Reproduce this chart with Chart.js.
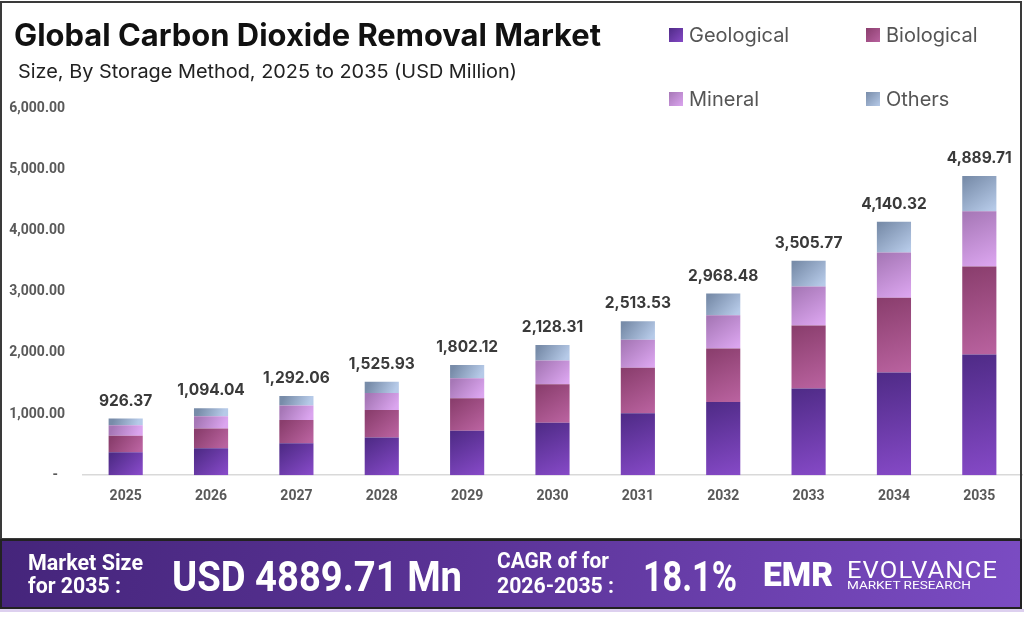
<!DOCTYPE html>
<html>
<head>
<meta charset="utf-8">
<script src="https://cdn.jsdelivr.net/npm/chart.js@4.4.1/dist/chart.umd.min.js"></script>
<style>
  html, body { margin: 0; padding: 0; background: #fff; }
  #page { position: relative; width: 1024px; height: 617px; overflow: hidden; background: #fff; }
  #chart { position: absolute; left: 0; top: 0; }
  #box { position: absolute; left: 0; top: 1px; width: 1018px; height: 535px; border: 2px solid #3a3a3a; pointer-events: none; }
  .txt { position: absolute; white-space: nowrap; line-height: 1; transform-origin: 0 0; display: inline-block; }
  #title { left: 14px; top: 16px; font: 700 31px Inter, sans-serif; color: #111; }
  #subtitle { left: 18px; top: 60px; font: 400 19px Inter, sans-serif; color: #222; }
  #legend { position: absolute; left: 669px; top: 0; }
  .leg { position: absolute; height: 20px; }
  .leg .sw { position: absolute; left: 0; top: 3px; width: 14px; height: 14px; }
  .leg .lb { position: absolute; left: 20px; top: 0; font: 400 20px Inter, sans-serif; color: #555; white-space: nowrap; line-height: 1; transform-origin: 0 0; }
  #footer { position: absolute; left: 0; top: 539px; width: 1018px; height: 66px; border: 2px solid #222;
            background: linear-gradient(100deg, #45257b 0%, #5a3396 45%, #7b4cc3 100%); }
  #strip { position: absolute; left: 0; top: 609px; width: 1024px; height: 3px; background: #ddd0ef; }
  .ft { position: absolute; white-space: nowrap; line-height: 1; transform-origin: 0 0; color: #fff; font-family: Roboto, sans-serif; font-weight: 700; }
</style>
</head>
<body>
<div id="page">
  <canvas id="chart" width="1024" height="540"></canvas>
  <div id="box"></div>
  <div id="title" class="txt" data-w="587">Global Carbon Dioxide Removal Market</div>
  <div id="subtitle" class="txt" data-w="499">Size, By Storage Method, 2025 to 2035 (USD Million)</div>
  <div id="legend"></div>
  <div id="footer"></div>
  <div id="strip"></div>
  <div class="ft" style="left:28px;top:552px;font-size:22px" data-w="115">Market Size</div>
  <div class="ft" style="left:28px;top:575px;font-size:22px" data-w="93">for 2035 :</div>
  <div class="ft" style="left:172px;top:556px;font-size:42px" data-w="290">USD 4889.71 Mn</div>
  <div class="ft" style="left:497px;top:550px;font-size:22px" data-w="112">CAGR of for</div>
  <div class="ft" style="left:497px;top:575px;font-size:22px" data-w="117">2026-2035 :</div>
  <div class="ft" style="left:643px;top:556px;font-size:42px" data-w="94">18.1%</div>
  <div class="ft" style="left:763px;top:557px;font-size:34px;font-weight:900" data-w="70">EMR</div>
  <div class="ft" style="left:847px;top:559px;font-size:23px;font-weight:400;letter-spacing:1px" data-w="151">EVOLVANCE</div>
  <div class="ft" style="left:847px;top:581px;font-size:10px;font-weight:400" data-w="124">MARKET RESEARCH</div>
</div>
<script>
// chart data
const years = ['2025', '2026', '2027', '2028', '2029', '2030', '2031', '2032', '2033', '2034', '2035'];
const geological = [373.3, 440.9, 520.7, 615.0, 726.3, 857.7, 1013.0, 1196.3, 1418.0, 1679.0, 1971.6];
const biological = [273.3, 322.7, 381.2, 450.1, 531.6, 627.9, 741.5, 875.7, 1030.0, 1221.0, 1439.0];
const mineral = [168.6, 199.1, 235.2, 277.7, 328.0, 387.4, 457.5, 540.3, 636.0, 738.0, 903.7];
const others = [111.2, 131.3, 155.0, 183.1, 216.2, 255.3, 301.5, 356.2, 421.8, 502.3, 575.4];
const totals = [926.37, 1094.04, 1292.06, 1525.93, 1802.12, 2128.31, 2513.53, 2968.48, 3505.77, 4140.32, 4889.71];
const seriesNames = ['Geological', 'Biological', 'Mineral', 'Others'];
const yTicks = [0, 1000, 2000, 3000, 4000, 5000, 6000];

// top -> bottom colours of each segment
const shades = [
    ['#4f2b87', '#8549c6'],
    ['#8a3e6d', '#b9629f'],
    ['#a677b6', '#dba5ef'],
    ['#788ca9', '#b6cae8']
];

function fmt(v) {
    return v.toLocaleString('en-US', { minimumFractionDigits: 2, maximumFractionDigits: 2 });
}

// gradient for one stacked segment, using the y scale
function segmentFill(c) {
    const pair = shades[c.datasetIndex];
    const chart = c.chart;
    if (c.type !== 'data' || !chart.chartArea) return pair[1];
    const y = chart.scales.y;
    const x = chart.scales.x;
    let base = 0;
    for (let i = 0; i < c.datasetIndex; i++) base += chart.data.datasets[i].data[c.dataIndex];
    const top = base + c.raw;
    const cx = x.getPixelForValue(c.dataIndex);
    const g = chart.ctx.createLinearGradient(cx - 12, y.getPixelForValue(top), cx + 12, y.getPixelForValue(base));
    g.addColorStop(0, pair[0]);
    g.addColorStop(1, pair[1]);
    return g;
}

// total value above each bar
const totalLabels = {
    id: 'totalLabels',
    afterDatasetsDraw(chart) {
        const meta = chart.getDatasetMeta(chart.data.datasets.length - 1);
        const ctx = chart.ctx;
        ctx.save();
        ctx.font = '700 15.5px Inter';
        ctx.fillStyle = '#3a3a3a';
        ctx.textAlign = 'center';
        ctx.textBaseline = 'alphabetic';
        meta.data.forEach((bar, i) => {
            ctx.fillText(fmt(totals[i]), bar.x, bar.y - 13);
        });
        ctx.restore();
    }
};

function renderLegend() {
    const box = document.getElementById('legend');
    const spots = [[0, 25], [197, 25], [0, 89], [197, 89]];
    seriesNames.forEach((name, i) => {
        const item = document.createElement('div');
        item.className = 'leg';
        item.style.left = spots[i][0] + 'px';
        item.style.top = spots[i][1] + 'px';
        item.innerHTML = '<div class="sw" style="background:linear-gradient(135deg,' + shades[i][0] + ',' + shades[i][1] + ')"></div>' +
            '<div class="lb">' + name + '</div>';
        box.appendChild(item);
    });
}

function fitTexts() {
    document.querySelectorAll('[data-w]').forEach(el => {
        const w = el.getBoundingClientRect().width;
        el.style.transform = 'scaleX(' + (el.dataset.w / w) + ')';
    });
}

function renderChart() {
    const ctx = document.getElementById('chart').getContext('2d');
    const sets = [geological, biological, mineral, others];

    new Chart(ctx, {
        type: 'bar',
        data: {
            labels: years,
            datasets: sets.map((d, i) => ({
                label: seriesNames[i],
                data: d,
                backgroundColor: segmentFill,
                borderWidth: 0,
                barPercentage: 0.8,
                categoryPercentage: 0.5
            }))
        },
        options: {
            responsive: false,
            animation: false,
            layout: { padding: { top: 108, bottom: 30, left: 8, right: 2 } },
            plugins: {
                legend: { display: false },
                tooltip: { enabled: false }
            },
            scales: {
                x: {
                    stacked: true,
                    grid: { display: false },
                    border: { display: true, color: '#d9d9d9', width: 1.5 },
                    ticks: { color: '#595959', padding: 5, font: { family: 'Roboto', weight: 'bold', size: 14 } }
                },
                y: {
                    stacked: true,
                    min: 0,
                    max: 6000,
                    grid: { display: false },
                    border: { display: false },
                    afterFit: s => { s.width = 75; },
                    afterBuildTicks: s => { s.ticks = yTicks.map(v => ({ value: v })); },
                    ticks: {
                        color: '#595959',
                        padding: 10,
                        font: { family: 'Roboto', weight: 'bold', size: 14 },
                        callback: v => v === 0 ? '-  ' : fmt(v)
                    }
                }
            }
        },
        plugins: [totalLabels]
    });
}

document.addEventListener('DOMContentLoaded', function () {
    renderLegend();
    fitTexts();
    renderChart();
});
</script>
</body>
</html>
